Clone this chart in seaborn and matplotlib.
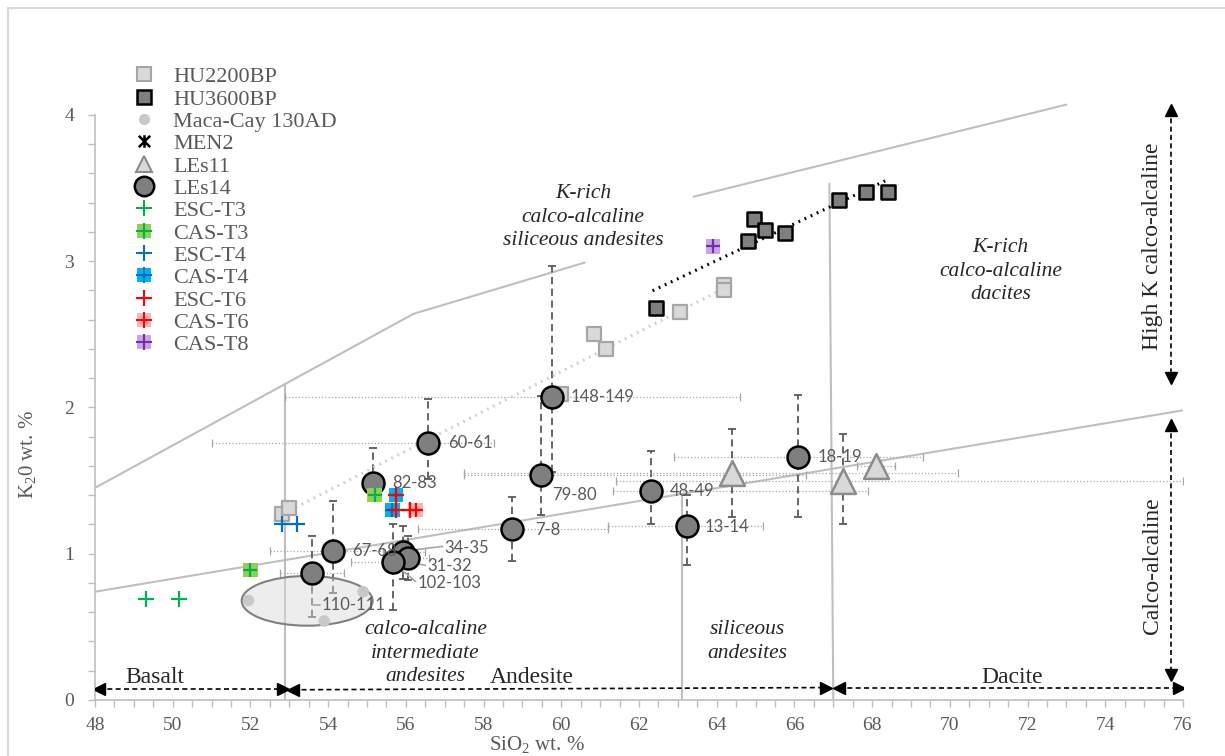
import numpy as np
import matplotlib
matplotlib.use("Agg")
import matplotlib.pyplot as plt
import seaborn as sns
from matplotlib.lines import Line2D
from matplotlib.patches import Ellipse, Rectangle
from matplotlib.path import Path

# ---------------- data ----------------
hu2200_x = [52.8, 53.0, 60.0, 60.85, 61.15, 63.05, 64.2, 64.2]
hu2200_y = [1.27, 1.31, 2.09, 2.50, 2.40, 2.65, 2.84, 2.80]

hu3600_x = [62.45, 64.8, 64.95, 65.25, 65.75, 67.15, 67.85, 68.4]
hu3600_y = [2.68, 3.14, 3.29, 3.21, 3.19, 3.42, 3.47, 3.47]

macacay_x = [51.95, 53.9, 54.9]
macacay_y = [0.68, 0.54, 0.74]

men2_x = [57.95]
men2_y = [0.89]

les11_x = [64.4, 67.25, 68.1]
les11_y = [1.55, 1.50, 1.60]
les11_ylo = [1.25, 1.20, 1.60]
les11_yhi = [1.85, 1.82, 1.60]
les11_xlo = [57.5, 61.4, 67.6]
les11_xhi = [70.2, 76.0, 68.6]

les14_labels = ["148-149", "60-61", "82-83", "79-80", "7-8", "48-49", "13-14",
                "18-19", "67-68", "34-35", "31-32", "102-103", "110-111"]
les14_x = [59.76, 56.57, 55.15, 59.48, 58.73, 62.31, 63.23, 66.09, 54.13, 55.92, 56.05, 55.67, 53.58]
les14_y = [2.07, 1.76, 1.48, 1.54, 1.17, 1.43, 1.19, 1.66, 1.02, 1.01, 0.97, 0.94, 0.87]
les14_ylo = [1.56, 1.51, 1.40, 1.265, 0.95, 1.20, 0.92, 1.25, 0.73, 0.83, 0.82, 0.615, 0.57]
les14_yhi = [2.97, 2.06, 1.72, 2.08, 1.385, 1.70, 1.40, 2.085, 1.36, 1.19, 1.12, 1.20, 1.12]
les14_xlo = [52.9, 51.0, 54.95, 57.5, 56.3, 61.33, 61.2, 62.9, 52.5, 55.4, 55.5, 54.6, 52.76]
les14_xhi = [64.6, 58.27, 55.35, 66.3, 61.2, 67.9, 65.2, 69.3, 55.7, 56.5, 56.6, 56.2, 54.4]
# where each sample label is written (left edge, middle)
les14_lab_x = [60.25, 57.08, 55.64, 59.76, 59.32, 62.80, 63.70, 66.60, 54.61, 57.00, 56.54, 56.31, 53.84]
les14_lab_y = [2.07, 1.76, 1.48, 1.40, 1.165, 1.43, 1.18, 1.66, 1.02, 1.04, 0.917, 0.80, 0.65]
# leader lines for the crowded labels (x0, y0, x1, y1)
leaders = [(56.0, 1.02, 56.95, 1.05), (56.15, 0.94, 56.5, 0.92),
           (55.75, 0.92, 56.25, 0.81), (53.62, 0.65, 53.8, 0.65)]

esc_t3_x = [49.3, 50.15]
esc_t3_y = [0.69, 0.69]
cas_t3_x = [52.0, 55.2]
cas_t3_y = [0.89, 1.40]
esc_t4_x = [52.8, 53.2]
esc_t4_y = [1.20, 1.20]
cas_t4_x = [55.75, 55.65]
cas_t4_y = [1.40, 1.30]
esc_t6_x = [55.75, 55.75, 56.1]
esc_t6_y = [1.40, 1.30, 1.30]
cas_t6_x = [56.25]
cas_t6_y = [1.30]
cas_t8_x = [63.9]
cas_t8_y = [3.10]

# classification boundaries
upper_x = [48.0, 56.2, 60.6]
upper_y = [1.45, 2.64, 2.99]
upper2_x = [63.4, 73.0]
upper2_y = [3.44, 4.07]
lower_x = [48.0, 76.0]
lower_y = [0.74, 1.98]
dividers = [([52.9, 52.9], [0, 2.15]), ([63.1, 63.1], [0, 1.40]), ([66.9, 67.0], [3.53, 0])]

sns.set_theme(style="white")
plt.rcParams["font.family"] = ["Liberation Serif", "DejaVu Serif"]
plt.rcParams["mathtext.fontset"] = "custom"
plt.rcParams["mathtext.rm"] = "Liberation Serif"

grey_txt = "#595959"
line_grey = "#bfbfbf"

# excel-like star: an x with a vertical stroke
star = Path([(-1, -1), (1, 1), (-1, 1), (1, -1), (0, -1.1), (0, 1.1)],
            [Path.MOVETO, Path.LINETO, Path.MOVETO, Path.LINETO, Path.MOVETO, Path.LINETO])

fig = plt.figure(figsize=(12.25, 7.56), dpi=100)
ax = fig.add_axes([95 / 1225, 56 / 756, 1088 / 1225, 651 / 756])
ax.set_xlim(48, 76)
ax.set_ylim(0, 4.45)

# outer frame
fig.patches.append(Rectangle((8 / 1225, -0.05), 1.2, 1.039, transform=fig.transFigure,
                             fill=False, ec="#d9d9d9", lw=1.5))

# boundaries
ax.plot(upper_x, upper_y, color=line_grey, lw=1.5, zorder=1)
ax.plot(upper2_x, upper2_y, color=line_grey, lw=1.5, zorder=1)
ax.plot(lower_x, lower_y, color=line_grey, lw=1.5, zorder=1)
for dx, dy in dividers:
    ax.plot(dx, dy, color=line_grey, lw=1.5, zorder=1)

# error bars of LEs14 and LEs11
for xs, ys, ylo, yhi, xlo, xhi in [(les14_x, les14_y, les14_ylo, les14_yhi, les14_xlo, les14_xhi),
                                    (les11_x, les11_y, les11_ylo, les11_yhi, les11_xlo, les11_xhi)]:
    xs, ys = np.array(xs), np.array(ys)
    xerr = [xs - np.array(xlo), np.array(xhi) - xs]
    yerr = [ys - np.array(ylo), np.array(yhi) - ys]
    eb = ax.errorbar(xs, ys, xerr=xerr, fmt="none", ecolor="#a6a6a6", elinewidth=0.9,
                     capsize=3, capthick=0.9, zorder=2)
    eb[2][0].set_linestyle(":")
    eb = ax.errorbar(xs, ys, yerr=yerr, fmt="none", ecolor="#595959", elinewidth=1.3,
                     capsize=3, capthick=1.3, zorder=2)
    eb[2][0].set_linestyle((0, (4, 2.5)))

# trend lines
for xs, ys, col, lw in [(hu2200_x, hu2200_y, "#cfcfcf", 2.2), (hu3600_x, hu3600_y, "black", 2.2)]:
    k, b = np.polyfit(xs, ys, 1)
    tx = np.array([min(xs) - 0.1, max(xs)])
    ax.plot(tx, k * tx + b, color=col, lw=lw, ls=(0, (0.6, 1.6)), zorder=3)

# Maca-Cay ellipse
ax.add_patch(Ellipse((53.46, 0.678), 3.37, 0.34, fc="#d9d9d9", alpha=0.45, ec="none", zorder=2))
ax.add_patch(Ellipse((53.46, 0.678), 3.37, 0.34, fc="none", ec="#808080", lw=1.5, zorder=2))

# series
sns.scatterplot(x=macacay_x, y=macacay_y, marker="o", s=70, color="#c8c8c8", edgecolor="none", ax=ax, zorder=4)
sns.scatterplot(x=hu2200_x, y=hu2200_y, marker="s", s=110, color="#d9d9d9", edgecolor="#a6a6a6", linewidth=1.6, ax=ax, zorder=4)
sns.scatterplot(x=hu3600_x, y=hu3600_y, marker="s", s=110, color="#7f7f7f", edgecolor="black", linewidth=1.8, ax=ax, zorder=4)
sns.scatterplot(x=men2_x, y=men2_y, marker=star, s=100, color="black", linewidth=1.8, ax=ax, zorder=4)
sns.scatterplot(x=les11_x, y=les11_y, marker="^", s=320, color="#d9d9d9", edgecolor="#8c8c8c", linewidth=1.8, ax=ax, zorder=5)
sns.scatterplot(x=les14_x, y=les14_y, marker="o", s=250, color="#7f7f7f", edgecolor="black", linewidth=1.8, ax=ax, zorder=5)

cas_series = [(cas_t3_x, cas_t3_y, "#92d050", "#00b050"),
              (cas_t4_x, cas_t4_y, "#00b0f0", "#0070c0"),
              (cas_t6_x, cas_t6_y, "#ffb3b3", "#ff0000"),
              (cas_t8_x, cas_t8_y, "#c9a3ec", "#7030a0")]
for xs, ys, face, cross in cas_series:
    sns.scatterplot(x=xs, y=ys, marker="s", s=110, color=face, edgecolor="none", ax=ax, zorder=6)
    sns.scatterplot(x=xs, y=ys, marker="+", s=110, color=cross, linewidth=1.6, ax=ax, zorder=7)
for xs, ys, cross in [(esc_t3_x, esc_t3_y, "#00b050"), (esc_t4_x, esc_t4_y, "#0070c0"),
                      (esc_t6_x, esc_t6_y, "#ff0000")]:
    sns.scatterplot(x=xs, y=ys, marker="+", s=120, color=cross, linewidth=1.6, ax=ax, zorder=8)

# sample labels
for lab, lx, ly in zip(les14_labels, les14_lab_x, les14_lab_y):
    ax.text(lx, ly, lab, fontsize=12, color=grey_txt, family=["Lato", "DejaVu Sans"],
            ha="left", va="center", zorder=9)
for x0, y0, x1, y1 in leaders:
    ax.plot([x0, x1], [y0, y1], color="#a6a6a6", lw=1.2, zorder=3)

# field names
ital = dict(fontsize=15.5, style="italic", color="#262626", ha="center", va="center", linespacing=1.32)
ax.text(60.56, 3.30, "K-rich\ncalco-alcaline\nsiliceous andesites", **ital)
ax.text(71.3, 2.93, "K-rich\ncalco-alcaline\ndacites", **ital)
ax.text(56.5, 0.32, "calco-alcaline\nintermediate\nandesites", **ital)
ax.text(64.8, 0.40, "siliceous\nandesites", **ital)
upright = dict(fontsize=17, color="#262626", ha="center", va="center")
ax.text(49.55, 0.155, "Basalt", **upright)
ax.text(59.25, 0.155, "Andesite", **upright)
ax.text(71.6, 0.155, "Dacite", **upright)
ax.text(75.22, 3.10, "High K calco-alcaline", fontsize=17, color="#262626", rotation=90, ha="center", va="center")
ax.text(75.22, 0.92, "Calco-alcaline", fontsize=17, color="#262626", rotation=90, ha="center", va="center")

# dashed double arrows
for ax_x, ax_y, m0, m1 in [([48.1, 52.85], [0.075, 0.075], "<", ">"),
                           ([53.1, 66.8], [0.07, 0.085], "<", ">"),
                           ([67.15, 75.9], [0.085, 0.085], "<", ">"),
                           ([75.7, 75.7], [4.03, 2.2], "^", "v"),
                           ([75.7, 75.7], [1.88, 0.17], "^", "v")]:
    ax.plot(ax_x, ax_y, color="black", lw=1.2, ls=(0, (3, 2)), zorder=3)
    ax.plot(ax_x[0], ax_y[0], marker=m0, ms=8, color="black", zorder=3)
    ax.plot(ax_x[1], ax_y[1], marker=m1, ms=8, color="black", zorder=3)

# axes styling
for s in ["top", "right"]:
    ax.spines[s].set_visible(False)
ax.spines["left"].set_bounds(0, 4)
for s in ["left", "bottom"]:
    ax.spines[s].set_color(line_grey)
    ax.spines[s].set_linewidth(1.2)
ax.set_yticks([0, 1, 2, 3, 4])
ax.set_yticks(np.arange(0, 4.01, 0.2), minor=True)
ax.set_xticks(np.arange(48, 77, 2))
ax.set_xticks(np.arange(48, 76.01, 0.5), minor=True)
ax.tick_params(which="both", direction="out", length=5, width=1, color=line_grey,
               labelcolor=grey_txt, labelsize=14, bottom=True, left=True)
ax.tick_params(axis="y", pad=10)
ax.tick_params(axis="x", pad=7)

# axis titles placed where the reference has them
fig.text(537 / 1225, 1 - 745 / 756, "SiO$_\\mathregular{2}$ wt. %", fontsize=15, color=grey_txt,
         ha="center", va="center")
fig.text(28 / 1225, 1 - 455 / 756, "K$_\\mathregular{2}$0 wt. %", fontsize=15, color=grey_txt,
         ha="center", va="center", rotation=90)

# legend
def sq(face, edge, lw=1.5):
    return Line2D([], [], marker="s", ms=10, mfc=face, mec=edge, mew=lw, ls="none")

def plus(col):
    return Line2D([], [], marker="+", ms=11, mec=col, mew=1.5, ls="none")

handles = [sq("#d9d9d9", "#a6a6a6"), sq("#7f7f7f", "black", 1.8),
           Line2D([], [], marker="o", ms=8, mfc="#c8c8c8", mec="none", ls="none"),
           Line2D([], [], marker=star, ms=9, mec="black", mew=1.8, ls="none"),
           Line2D([], [], marker="^", ms=12, mfc="#d9d9d9", mec="#8c8c8c", mew=1.5, ls="none"),
           Line2D([], [], marker="o", ms=14, mfc="#7f7f7f", mec="black", mew=1.8, ls="none"),
           plus("#00b050"), (sq("#92d050", "#92d050", 0), plus("#00b050")),
           plus("#0070c0"), (sq("#00b0f0", "#00b0f0", 0), plus("#0070c0")),
           plus("#ff0000"), (sq("#ffb3b3", "#ffb3b3", 0), plus("#ff0000")),
           (sq("#c9a3ec", "#c9a3ec", 0), plus("#7030a0"))]
labels = ["HU2200BP", "HU3600BP", "Maca-Cay 130AD", "MEN2", "LEs11", "LEs14", "ESC-T3",
          "CAS-T3", "ESC-T4", "CAS-T4", "ESC-T6", "CAS-T6", "CAS-T8"]
leg = ax.legend(handles, labels, loc="upper left", bbox_to_anchor=(0.023, 0.99), frameon=False,
                fontsize=16, labelspacing=0.08, handletextpad=0.7, handlelength=1.2, borderpad=0)
for t in leg.get_texts():
    t.set_color(grey_txt)

fig.savefig("out.png", dpi=100)
